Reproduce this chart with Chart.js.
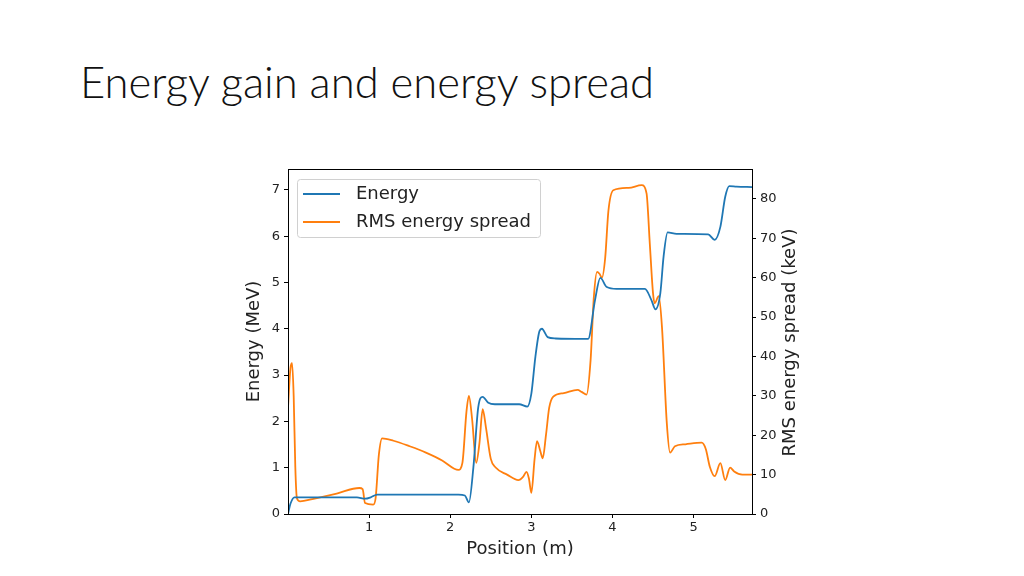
<!DOCTYPE html>
<html>
<head>
<meta charset="utf-8">
<script src="https://cdn.jsdelivr.net/npm/chart.js@4.4.1/dist/chart.umd.min.js"></script>
<style>
  html, body { margin: 0; padding: 0; background: #fff; }
  body { width: 1024px; height: 576px; position: relative; overflow: hidden; }
  h1 {
    position: absolute; left: 80px; top: 55px; margin: 0;
    font-family: Lato, "Open Sans", sans-serif; font-weight: 300;
    font-size: 43.6px; color: #111; white-space: nowrap;
  }
  #wrap { position: absolute; left: 240px; top: 150px; width: 562px; height: 410px; }
</style>
</head>
<body>
<h1>Energy gain and energy spread</h1>
<div id="wrap"><canvas id="chart"></canvas></div>
<script>
const energyPos = [0, 0.03, 0.08, 0.3, 0.85, 0.95, 1.02, 1.1, 1.3, 2.1, 2.18, 2.23, 2.285, 2.345, 2.4, 2.47, 2.55, 2.85, 2.95, 3.0, 3.05, 3.1, 3.13, 3.2, 3.3, 3.65, 3.7, 3.785, 3.85, 3.93, 4.05, 4.4, 4.48, 4.53, 4.59, 4.63, 4.68, 4.79, 5.18, 5.26, 5.33, 5.39, 5.44, 5.53, 5.72];
const energyMeV = [0, 0.22, 0.36, 0.36, 0.36, 0.33, 0.36, 0.42, 0.42, 0.42, 0.4, 0.25, 1.0, 2.3, 2.53, 2.4, 2.37, 2.37, 2.32, 2.6, 3.4, 3.95, 4.0, 3.82, 3.79, 3.78, 3.78, 4.62, 5.1, 4.9, 4.86, 4.86, 4.62, 4.42, 4.77, 5.56, 6.08, 6.05, 6.04, 5.92, 6.2, 6.85, 7.08, 7.07, 7.06];

const spreadPos = [0, 0.03, 0.05, 0.07, 0.09, 0.11, 0.15, 0.3, 0.6, 0.88, 0.92, 0.95, 1.05, 1.08, 1.12, 1.16, 1.3, 1.5, 1.7, 1.9, 2.05, 2.1, 2.15, 2.2, 2.23, 2.27, 2.32, 2.36, 2.4, 2.44, 2.5, 2.56, 2.7, 2.84, 2.9, 2.94, 2.97, 3.0, 3.04, 3.07, 3.11, 3.14, 3.18, 3.22, 3.27, 3.4, 3.57, 3.62, 3.68, 3.73, 3.77, 3.81, 3.84, 3.87, 3.91, 3.95, 4.01, 4.2, 4.36, 4.42, 4.46, 4.5, 4.52, 4.57, 4.61, 4.67, 4.71, 4.77, 4.9, 5.1, 5.15, 5.2, 5.26, 5.33, 5.39, 5.45, 5.5, 5.6, 5.72];
const spreadKeV = [27, 37, 38.3, 30, 12, 4, 3.2, 3.8, 5.2, 6.6, 6.3, 2.8, 2.4, 4, 15, 19.2, 18.6, 17.2, 15.6, 13.6, 11.5, 11.2, 13, 26, 30, 24, 13, 18, 26.6, 22, 14, 11.8, 10, 8.6, 9.5, 10.7, 9, 5.4, 14, 18.5, 16, 14.1, 20, 27, 29.8, 30.7, 31.5, 31, 30.3, 39, 55, 61.5, 61, 60, 65, 77, 82.2, 82.8, 83.5, 81.4, 68.7, 56, 53.5, 55.3, 47.5, 23, 15.6, 17.2, 17.7, 18.1, 16.5, 12, 9.6, 12.9, 8.6, 11.8, 10.8, 10, 10];

const xTicks = [1, 2, 3, 4, 5];
const energyTicks = [0, 1, 2, 3, 4, 5, 6, 7];
const spreadTicks = [0, 10, 20, 30, 40, 50, 60, 70, 80];
const rightTitle = "RMS energy spread (keV)";

const tickFont = { family: "DejaVu Sans", size: 13 };
const titleFont = { family: "DejaVu Sans", size: 18 };
const ink = "#222";

function points(xs, ys) {
  return xs.map((x, i) => ({ x: x, y: ys[i] }));
}

function fixTicks(values) {
  return function (axis) {
    axis.ticks = values.map(v => ({ value: v }));
  };
}

// frame, right-hand axis title (reads bottom to top) and a legend inside the plot
const framePlugin = {
  id: "frame",
  afterDraw(chart) {
    const ctx = chart.ctx;
    const a = chart.chartArea;
    ctx.save();
    ctx.strokeStyle = "#000";
    ctx.lineWidth = 1;
    ctx.strokeRect(Math.round(a.left) + 0.5, Math.round(a.top) + 0.5, Math.round(a.right - a.left), Math.round(a.bottom - a.top));

    ctx.save();
    ctx.translate(chart.scales.y1.right - 12, (a.top + a.bottom) / 2 + 1);
    ctx.rotate(-Math.PI / 2);
    ctx.font = "18px 'DejaVu Sans'";
    ctx.fillStyle = ink;
    ctx.textAlign = "center";
    ctx.textBaseline = "middle";
    ctx.fillText(rightTitle, 0, 0);
    ctx.restore();

    const bx = a.left + 9, by = a.top + 10, bw = 243, bh = 58;
    ctx.fillStyle = "rgba(255,255,255,0.85)";
    ctx.strokeStyle = "#d0d0d0";
    ctx.beginPath();
    ctx.roundRect(bx + 0.5, by + 0.5, bw, bh, 3);
    ctx.fill();
    ctx.stroke();
    ctx.font = "18px 'DejaVu Sans'";
    ctx.textBaseline = "middle";
    chart.data.datasets.forEach((ds, i) => {
      const y = by + 15 + i * 28;
      ctx.strokeStyle = ds.borderColor;
      ctx.lineWidth = 1.8;
      ctx.beginPath();
      ctx.moveTo(bx + 6, y);
      ctx.lineTo(bx + 43, y);
      ctx.stroke();
      ctx.fillStyle = ink;
      ctx.fillText(ds.label, bx + 59, y);
    });
    ctx.restore();
  }
};

new Chart(document.getElementById("chart"), {
  type: "line",
  data: {
    datasets: [{
      label: "Energy",
      data: points(energyPos, energyMeV),
      yAxisID: "y",
      borderColor: "#1f77b4",
      borderWidth: 1.8,
      pointRadius: 0,
      cubicInterpolationMode: "monotone"
    }, {
      label: "RMS energy spread",
      data: points(spreadPos, spreadKeV),
      yAxisID: "y1",
      borderColor: "#ff7f0e",
      borderWidth: 1.8,
      pointRadius: 0,
      cubicInterpolationMode: "monotone"
    }]
  },
  options: {
    responsive: true,
    maintainAspectRatio: false,
    animation: false,
    layout: { padding: { top: 19 } },
    plugins: {
      legend: { display: false },
      tooltip: { enabled: false }
    },
    scales: {
      x: {
        type: "linear",
        min: 0,
        max: 5.72,
        afterBuildTicks: fixTicks(xTicks),
        afterFit(axis) { axis.height = 46; },
        grid: { drawOnChartArea: false, tickLength: 4, color: "#000" },
        border: { color: "#000" },
        ticks: { color: ink, font: tickFont, padding: 2, maxRotation: 0 },
        title: { display: true, text: "Position (m)", color: ink, font: titleFont, padding: { top: 0, bottom: 0 } }
      },
      y: {
        position: "left",
        min: 0,
        max: 7.45,
        afterBuildTicks: fixTicks(energyTicks),
        afterFit(axis) { axis.width = 48; },
        grid: { drawOnChartArea: false, tickLength: 4, color: "#000" },
        border: { color: "#000" },
        ticks: { color: ink, font: tickFont, padding: 4 },
        title: { display: true, text: "Energy (MeV)", color: ink, font: titleFont, padding: 4 }
      },
      y1: {
        position: "right",
        min: 0,
        max: 87.6,
        afterBuildTicks: fixTicks(spreadTicks),
        afterFit(axis) { axis.width = 50; },
        grid: { drawOnChartArea: false, tickLength: 4, color: "#000" },
        border: { color: "#000" },
        ticks: { color: ink, font: tickFont, padding: 4 },
        title: { display: false }
      }
    }
  },
  plugins: [framePlugin]
});
</script>
</body>
</html>
